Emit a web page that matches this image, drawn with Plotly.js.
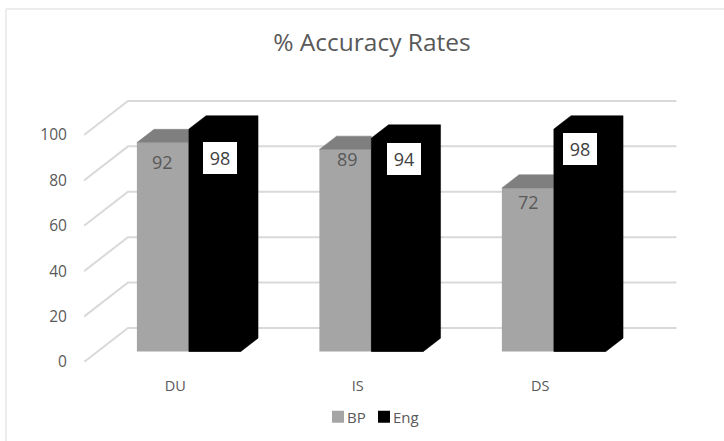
<!DOCTYPE html>
<html>
<head>
<meta charset="utf-8">
<script src="https://cdn.plot.ly/plotly-3.0.1.min.js"></script>
<style>html,body{margin:0;padding:0;background:#fff}#chart{width:724px;height:441px}</style>
</head>
<body>
<div id="chart"></div>
<script>
const categories = ["DU", "IS", "DS"];
const bpValues = [92, 89, 72];
const engValues = [98, 94, 98];
const yTicks = [0, 20, 40, 60, 80, 100];

// Pseudo-3D geometry, in axis units
const W = 724, H = 441;
const marginL = 84, marginB = 79;
const plotW = W - marginL, plotH = H - marginB;
const pxPerCat = 182.5, pxPerVal = 2.27;
const depthX = 44 / pxPerCat;   // full floor depth, in category units
const depthY = 15;              // full floor depth, in value units
const barFront = 0.31, barBack = 0.70;
const barW = 52 / pxPerCat;
const xMin = -0.5, xMax = xMin + plotW / pxPerCat;
const yMax = plotH / pxPerVal;
const lastX = categories.length - 1 + 0.505;

const idx = categories.map((_, i) => i);
const frontShift = barFront * depthX, baseY = barFront * depthY;
const faceDX = (barBack - barFront) * depthX, faceDY = (barBack - barFront) * depthY;

// Wall and floor gridlines, beneath all traces
const gridShapes = yTicks.map(t => ({
  type: "path", xref: "x", yref: "y", layer: "below",
  path: `M ${xMin} ${t} L ${xMin + depthX} ${t + depthY} L ${lastX + depthX} ${t + depthY}`,
  line: {color: "#d9d9d9", width: 2}
}));

const traces = [];
function face(xs, ys, color) {
  traces.push({
    type: "scatter", mode: "lines", showlegend: false, hoverinfo: "skip",
    x: xs, y: ys, fill: "toself", fillcolor: color, line: {color: color, width: 0.5}
  });
}

traces.push({
  type: "bar", name: "BP", x: idx.map(i => i + frontShift - barW / 2), y: bpValues,
  base: baseY, width: barW, marker: {color: "#a5a5a5"}
});
traces.push({
  type: "bar", name: "Eng", x: idx.map(i => i + frontShift + barW / 2), y: engValues,
  base: baseY, width: barW, marker: {color: "#000000"}
});

// BP top faces stop where the Eng bar begins
bpValues.forEach((v, i) => {
  const l = i + frontShift - barW, r = l + barW, t = v + baseY;
  face([l, l + faceDX, r, r, l], [t, t + faceDY, t + faceDY, t, t], "#7f7f7f");
});
// Eng silhouette: one outline over front, top and side, so no seams show
engValues.forEach((v, i) => {
  const l = i + frontShift, r = l + barW, t = v + baseY;
  face([l, l + faceDX, r + faceDX, r + faceDX, r, l, l],
       [t, t + faceDY, t + faceDY, baseY + faceDY, baseY, baseY, t], "#000000");
});

const font = '"Open Sans", sans-serif';
const annotations = [];
// pixel offsets of each data label from the top centre of its bar
const bpLabelShift = [[0, -19], [2, -10], [1, -14]];
const engLabelShift = [[5.5, -29], [7, -21], [0.5, -20]];
bpValues.forEach((v, i) => annotations.push({
  x: i + frontShift - barW / 2, y: v + baseY, text: String(v), showarrow: false,
  xshift: bpLabelShift[i][0], yshift: bpLabelShift[i][1],
  font: {family: font, size: 18, color: "#595959"}
}));
engValues.forEach((v, i) => annotations.push({
  x: i + frontShift + barW / 2, y: v + baseY, text: String(v), showarrow: false,
  xshift: engLabelShift[i][0], yshift: engLabelShift[i][1], width: 34, height: 32, borderpad: 0, borderwidth: 0,
  bgcolor: "#ffffff", font: {family: font, size: 18, color: "#404040"}
}));

const borderX = (6 - marginL) / plotW, borderY = 1 - 9 / plotH;
const layout = {
  width: W, height: H,
  margin: {l: marginL, r: 0, t: 0, b: marginB, pad: 0},
  paper_bgcolor: "#ffffff", plot_bgcolor: "rgba(0,0,0,0)",
  barmode: "overlay",
  font: {family: font, color: "#595959", size: 14},
  title: {text: "% Accuracy Rates", x: 372 / W, xanchor: "center", y: 1 - 42 / H, yanchor: "middle",
          font: {family: font, size: 24.5, color: "#595959"}},
  xaxis: {range: [xMin, xMax], tickmode: "array", tickvals: idx, ticktext: categories,
          showgrid: false, zeroline: false, showline: false, ticks: "outside", ticklen: 11,
          tickcolor: "rgba(0,0,0,0)", tickfont: {family: font, size: 14.5, color: "#595959"}},
  yaxis: {range: [0, yMax], tickmode: "array", tickvals: yTicks, ticktext: yTicks.map(String),
          showgrid: false, zeroline: false, showline: false, ticks: "outside", ticklen: 13,
          tickcolor: "rgba(0,0,0,0)", tickfont: {family: font, size: 15.5, color: "#595959"}},
  legend: {orientation: "h", x: (307 - marginL) / plotW, xanchor: "left", y: (plotH - 417) / plotH, yanchor: "middle",
           font: {family: font, size: 15, color: "#595959"}, itemwidth: 30, entrywidth: 1, entrywidthmode: "pixels",
           bgcolor: "rgba(0,0,0,0)"},
  annotations: annotations,
  shapes: gridShapes.concat([
    {type: "line", xref: "paper", yref: "paper", layer: "below",
     x0: borderX, x1: 1, y0: borderY, y1: borderY,
     line: {color: "#e7e7e7", width: 1.5}},
    {type: "line", xref: "paper", yref: "paper", layer: "below",
     x0: borderX, x1: borderX, y0: borderY, y1: 1 - H / plotH,
     line: {color: "#e7e7e7", width: 1.5}}
  ])
};

Plotly.newPlot("chart", traces, layout, {displayModeBar: false, staticPlot: true}).then(gd => {
  // Legend swatches sit closer to their text than the library's minimum item width allows
  gd.querySelectorAll(".legend .legendsymbols").forEach(s => s.setAttribute("transform", "translate(11,0)"));
  // The narrow entries would otherwise clip the last label
  gd.querySelectorAll(".legend .scrollbox").forEach(s => s.removeAttribute("clip-path"));
  gd.querySelectorAll(".legend").forEach(s => { s.style.overflow = "visible"; });
});
</script>
</body>
</html>
